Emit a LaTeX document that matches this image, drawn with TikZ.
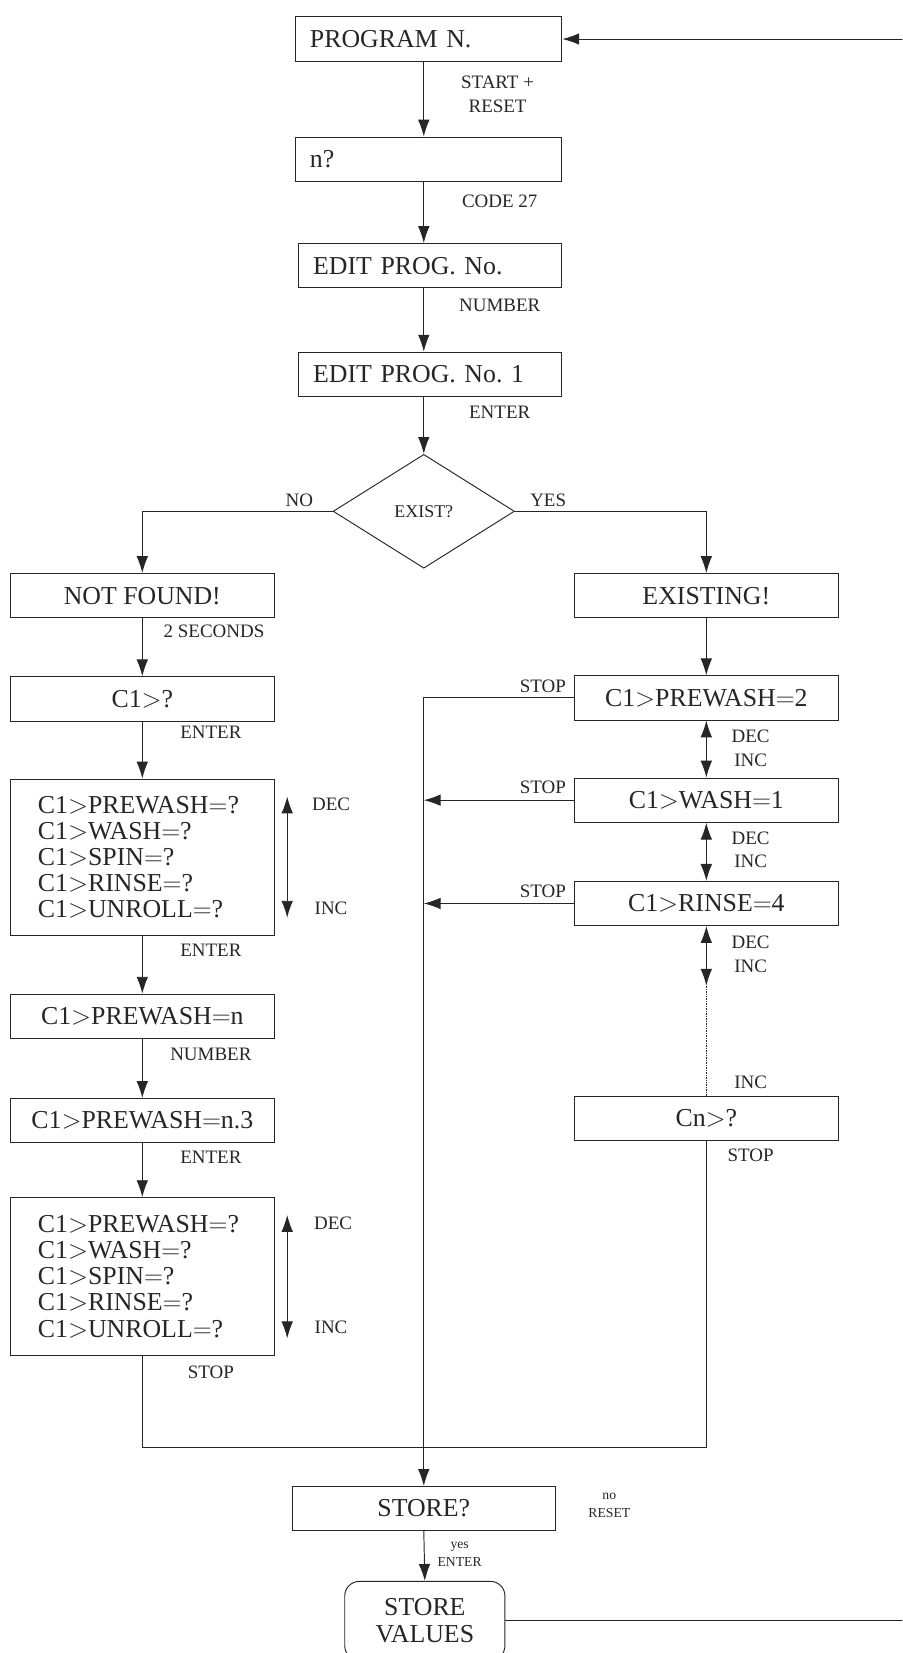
\documentclass[tikz,border=0pt]{standalone}
\usepackage{fontspec}
\setmainfont{Liberation Serif}
\usetikzlibrary{arrows.meta, shapes.geometric}
\frenchspacing

\newcommand{\boxfont}{\fontsize{24.5}{24.75}\selectfont}
\newcommand{\lblfont}{\fontsize{18}{22.5}\selectfont}
\newcommand{\minifont}{\fontsize{13}{17}\selectfont}

\tikzset{
	box/.style = {draw, minimum width = 250pt, minimum height = 42pt, inner sep = 0pt, font = \boxfont},
	lbox/.style = {box, text width = 222pt, inner xsep = 14pt, align = left},
	list/.style = {box, minimum height = 148pt, text width = 198pt, inner xsep = 26pt, align = left},
	lbl/.style = {font = \lblfont, align = center, inner sep = 0pt},
	minilbl/.style = {font = \minifont, align = center, inner sep = 0pt},
	choice/.style = {draw, diamond, minimum width = 172pt, minimum height = 108pt, inner sep = 0pt, font = \fontsize{17}{20}\selectfont}
}

\begin{document}
\begin{tikzpicture}[x = 1pt, y = -1pt, > = {Latex[length = 16pt, width = 11pt]}, line width = 0.9pt, color = black!85]

	% Definitions

	\def\sheetw{856}		% width of the sheet
	\def\sheeth{1568}		% height of the sheet

	\useasboundingbox (0, 0) rectangle (\sheetw, \sheeth);
	\clip (0, 0) rectangle (\sheetw, \sheeth);


	% Main column

	\node [lbox, minimum width = 253pt, text width = 225pt] (prog) at (406.5, 37) {PROGRAM N.};
	\node [lbox, minimum width = 253pt, text width = 225pt] (nq) at (406.5, 151) {n?};
	\node [lbox] (edit) at (408, 252) {EDIT PROG. No.};
	\node [lbox] (edit1) at (408, 355) {EDIT PROG. No. 1};
	\node [choice] (exist) at (402, 485) {EXIST?};

	\node [lbl] (lstart) at (472, 89.5) {START +\\RESET};
	\node [lbl] (lcode) at (474, 191) {CODE 27};
	\node [lbl] (lnum) at (474, 290) {NUMBER};
	\node [lbl] (lent) at (474, 391) {ENTER};
	\node [lbl] (lno) at (284, 475) {NO};
	\node [lbl] (lyes) at (520, 475) {YES};

	\draw [->] (prog.south -| exist) -- (nq.north -| exist);
	\draw [->] (nq.south -| exist) -- (edit.north -| exist);
	\draw [->] (edit.south -| exist) -- (edit1.north -| exist);
	\draw [->] (edit1.south -| exist) -- (exist.north);


	% New program (left)

	\node [box] (notfound) at (135, 565) {NOT FOUND!};
	\node [box] (c1q) at (135, 663) {C1$>$?};
	\node [list] (list1) at (135, 813) {C1$>$PREWASH$=$?\\C1$>$WASH$=$?\\C1$>$SPIN$=$?\\C1$>$RINSE$=$?\\C1$>$UNROLL$=$?};
	\node [box] (pren) at (135, 964) {C1$>$PREWASH$=$n};
	\node [box] (pren3) at (135, 1063) {C1$>$PREWASH$=$n.3};
	\node [list, minimum height = 150pt] (list2) at (135, 1211) {C1$>$PREWASH$=$?\\C1$>$WASH$=$?\\C1$>$SPIN$=$?\\C1$>$RINSE$=$?\\C1$>$UNROLL$=$?};

	\node [lbl] (lsec) at (203, 599) {2 SECONDS};
	\node [lbl] (lent1) at (200, 695) {ENTER};
	\node [lbl] (ldec1) at (314, 763) {DEC};
	\node [lbl] (linc1) at (314, 862) {INC};
	\node [lbl] (lent2) at (200, 901) {ENTER};
	\node [lbl] (lnum1) at (200, 1000) {NUMBER};
	\node [lbl] (lent3) at (200, 1098) {ENTER};
	\node [lbl] (ldec2) at (316, 1160) {DEC};
	\node [lbl] (linc2) at (314, 1259) {INC};
	\node [lbl] (lstop) at (200, 1302) {STOP};

	\draw [->] (exist.west) -| (notfound.north);
	\foreach \a/\b in {notfound/c1q, c1q/list1, list1/pren, pren/pren3, pren3/list2}
		\draw [->] (\a.south) -- (\b.north);

	\foreach \l in {list1, list2}
		\draw [<->] ([xshift = 12pt, yshift = -17pt] \l.north east) -- ([xshift = 12pt, yshift = 17pt] \l.south east);


	% Existing program (right)

	\node [box] (existing) at (670, 565) {EXISTING!};
	\node [box] (pre2) at (670, 662) {C1$>$PREWASH$=$2};
	\node [box] (wash1) at (670, 759) {C1$>$WASH$=$1};
	\node [box] (rinse4) at (670, 857) {C1$>$RINSE$=$4};
	\node [box] (cn) at (670, 1061) {Cn$>$?};
	\coordinate (dots) at (670, 935);

	\foreach \y in {699, 795, 894}
		\node [lbl] at (712, \y + 11) {DEC\\INC};
	\foreach \y in {651, 747, 845}
		\node [lbl] at (515, \y) {STOP};
	\node [lbl] (linc3) at (712, 1027) {INC};
	\node [lbl] (lstop1) at (712, 1096) {STOP};

	\draw [->] (exist.east) -| (existing.north);
	\draw [->] (existing.south) -- (pre2.north);
	\foreach \a/\b in {pre2/wash1, wash1/rinse4}
		\draw [<->] (\a.south) -- (\b.north);
	\draw [<->] (rinse4.south) -- (dots);
	\draw [densely dotted, line width = 0.6pt] (dots) -- (cn.north);


	% Store

	\node [box] (store) at (402, 1431) {STORE?};
	\node [box, rounded corners = 14pt, minimum width = 152pt, minimum height = 75pt, align = center, font = \fontsize{24.5}{26}\selectfont] (storev) at (403, 1537.5) {STORE\\VALUES};
	\node [minilbl] (lreset) at (578, 1428) {no\\RESET};
	\node [minilbl] (lyes1) at (436, 1474.5) {yes\\ENTER};
	\coordinate (merge) at (402, 1373);
	\coordinate (back) at (900, 0);

	\draw [->] (pre2.west) -| (store.north);
	\foreach \n in {wash1, rinse4}
		\draw [->] (\n.west) -- (\n.west -| store.north);
	\draw (list2.south) |- (merge) -| (cn.south);
	\draw [->] (store.south) -- (storev.north);
	\draw [->] (storev.east) -| (back) |- (prog.east);		% back to the start, off the sheet

\end{tikzpicture}
\end{document}
